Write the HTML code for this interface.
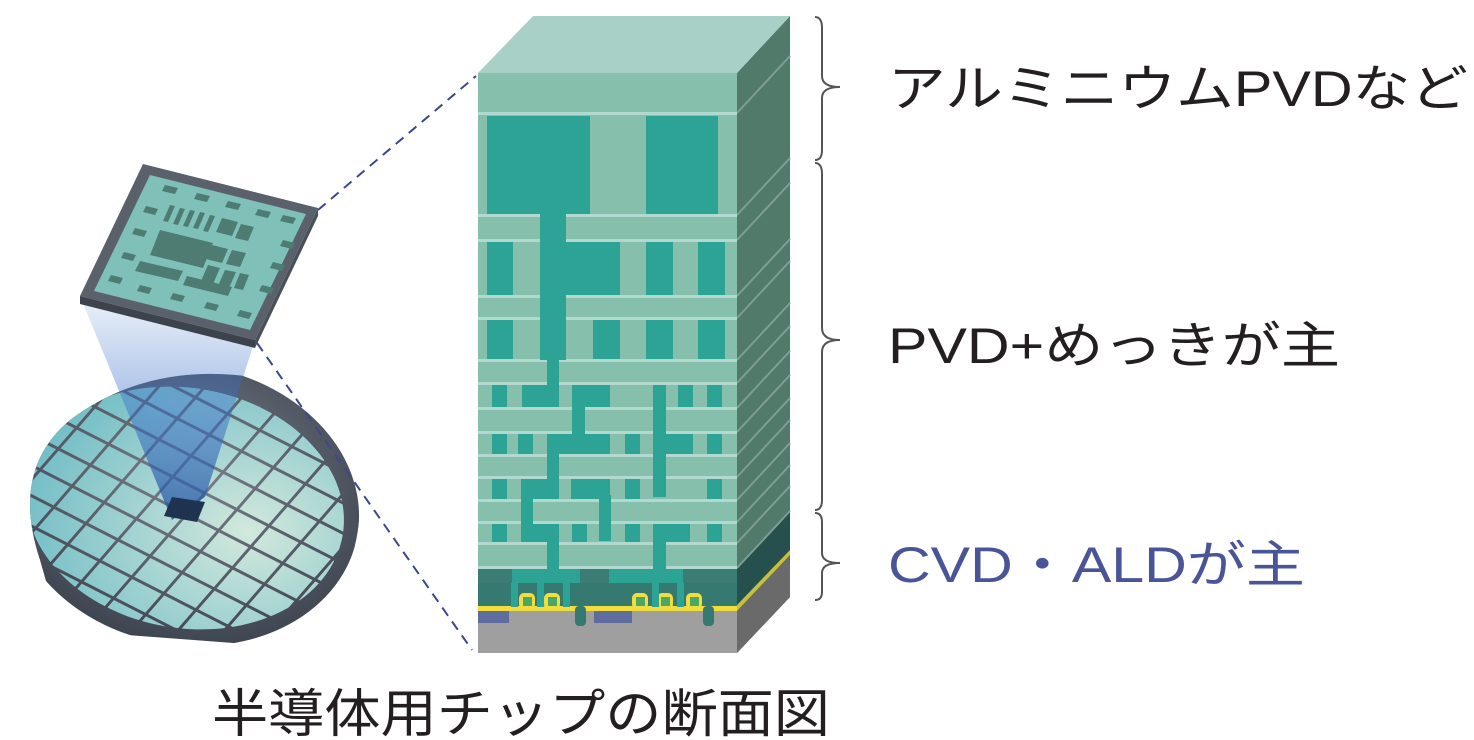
<!DOCTYPE html>
<html><head><meta charset="utf-8"><style>
html,body{margin:0;padding:0;background:#fff;}
svg{display:block}
text{font-family:"Liberation Sans","Noto Sans CJK JP",sans-serif;}
</style></head><body>
<svg width="1474" height="740" viewBox="0 0 1474 740" xmlns="http://www.w3.org/2000/svg">
<defs>
<linearGradient id="beam" x1="0" y1="0" x2="0" y2="1">
<stop offset="0" stop-color="#3a6fc9" stop-opacity="0.1"/>
<stop offset="0.5" stop-color="#3a6fc9" stop-opacity="0.45"/>
<stop offset="1" stop-color="#1e4f9e" stop-opacity="0.75"/>
</linearGradient>
<radialGradient id="cellg" cx="0.62" cy="0.6" r="0.6">
<stop offset="0" stop-color="#d2e8dc"/>
<stop offset="1" stop-color="#6fbcc6"/>
</radialGradient>
<radialGradient id="waf" cx="0.5" cy="0.4" r="0.6">
<stop offset="0" stop-color="#7b818c"/>
<stop offset="1" stop-color="#3e4550"/>
</radialGradient>
<mask id="cellmask">
<rect width="1474" height="740" fill="black"/>
<pattern id="cm" x="6" y="4" width="36" height="27" patternUnits="userSpaceOnUse" patternTransform="rotate(17) skewX(-14)">
<rect width="36" height="27" fill="black"/>
<rect x="2" y="2" width="33" height="24" fill="white"/>
</pattern>
<ellipse cx="185" cy="508" rx="160" ry="120" transform="rotate(10 185 508)" fill="url(#cm)"/>
</mask>
<clipPath id="wclip"><path d="M40 560 Q10 470 70 420 Q150 360 260 378 Q350 400 360 480 Q365 560 320 620 L300 648 L60 630 Z"/></clipPath>
</defs>

<!-- wafer -->
<g clip-path="url(#wclip)">
<ellipse cx="185" cy="505" rx="175" ry="140" transform="rotate(10 185 505)" fill="url(#waf)"/>
<rect x="0" y="340" width="400" height="320" fill="url(#cellg)" mask="url(#cellmask)"/>
</g>
<!-- beam -->
<polygon points="80,296 255,340 205,497 172,520" fill="url(#beam)"/>
<polygon points="172,497 205,502 197,522 164,516" fill="#1f3350"/>
<!-- chip -->
<polygon points="80,296 255,340 255,348 80,304" fill="#3d434c"/>
<polygon points="255,340 318,208 318,216 255,348" fill="#4a5059"/>
<polygon points="143,164 318,208 255,340 80,296" fill="#5a616b"/>
<polygon points="150,175 306,214 250,330 94,291" fill="#7fc0b8"/>
<g fill="#4e7c73">
<polygon points="165,185 178,188 175,194 162,191"/><polygon points="197,193 210,196 207,202 194,199"/><polygon points="228,201 241,204 238,210 225,207"/><polygon points="258,209 271,212 268,218 255,215"/><polygon points="283,215 296,218 293,224 280,221"/>
<polygon points="146,206 158,209 155,215 143,212"/><polygon points="135,228 147,231 144,237 132,234"/><polygon points="124,252 136,255 133,261 121,258"/><polygon points="111,275 123,278 120,284 108,281"/>
<polygon points="140,285 152,288 149,294 137,291"/><polygon points="173,293 185,296 182,302 170,299"/><polygon points="207,302 219,305 216,311 204,308"/><polygon points="240,310 252,313 249,319 237,316"/>
<polygon points="283,240 295,243 292,249 280,246"/><polygon points="273,262 285,265 282,271 270,268"/><polygon points="262,285 274,288 271,294 259,291"/>
<polygon points="160,230 213,243 203,268 150,255"/>
<polygon points="140,261 183,271 178,281 135,271"/>
<polygon points="187,276 232,287 228,296 183,285"/>
<polygon points="170,205 175,206 168,222 163,221"/><polygon points="180,208 185,209 178,225 173,224"/><polygon points="190,210 195,211 188,227 183,226"/><polygon points="200,212 205,213 198,229 193,228"/><polygon points="210,215 215,216 208,232 203,231"/>
<polygon points="222,218 238,222 232,236 216,232"/><polygon points="241,224 254,227 248,241 235,238"/>
<polygon points="212,245 228,249 222,263 206,259"/><polygon points="232,250 246,253 240,267 226,264"/>
<polygon points="208,265 220,268 213,284 201,281"/><polygon points="225,270 236,272 229,288 218,286"/><polygon points="240,273 249,275 243,290 234,288"/>
</g>
<!-- dashed lines -->
<g stroke="#3c4790" stroke-width="2" stroke-dasharray="10,7" fill="none">
<line x1="318" y1="210" x2="476" y2="76"/>
<line x1="257" y1="343" x2="472" y2="650"/>
</g>

<!-- block right face -->
<polygon points="737,73 790,16 790,597 737,653" fill="#527a6b"/>
<polygon points="737,568 790,511 790,552 737,607" fill="#25504d"/>
<polygon points="737,605 790,550 790,555 737,611" fill="#c8c03a"/>
<polygon points="737,611 790,555 790,597 737,653" fill="#6a6a6a"/>
<g stroke="#7e9e94" stroke-width="2">
<line x1="737" y1="113" x2="790" y2="56"/><line x1="737" y1="215" x2="790" y2="158"/><line x1="737" y1="240" x2="790" y2="183"/><line x1="737" y1="296" x2="790" y2="239"/><line x1="737" y1="318" x2="790" y2="261"/><line x1="737" y1="360" x2="790" y2="303"/><line x1="737" y1="383" x2="790" y2="326"/><line x1="737" y1="408" x2="790" y2="351"/><line x1="737" y1="432" x2="790" y2="375"/><line x1="737" y1="455" x2="790" y2="398"/><line x1="737" y1="477" x2="790" y2="420"/><line x1="737" y1="500" x2="790" y2="443"/><line x1="737" y1="522" x2="790" y2="465"/><line x1="737" y1="543" x2="790" y2="486"/><line x1="737" y1="568" x2="790" y2="511"/>
</g>
<!-- top face -->
<polygon points="478,73 533,16 790,16 737,73" fill="#a8d0c7"/>
<!-- front face -->
<rect x="478" y="73" width="259" height="497" fill="#86bfab"/>
<g fill="#b2d9d0">
<rect x="478" y="112" width="259" height="3"/><rect x="478" y="214" width="259" height="3"/><rect x="478" y="239" width="259" height="3"/><rect x="478" y="295" width="259" height="3"/><rect x="478" y="317" width="259" height="3"/><rect x="478" y="359" width="259" height="3"/><rect x="478" y="382" width="259" height="3"/><rect x="478" y="407" width="259" height="3"/><rect x="478" y="431" width="259" height="3"/><rect x="478" y="454" width="259" height="3"/><rect x="478" y="476" width="259" height="3"/><rect x="478" y="499" width="259" height="3"/><rect x="478" y="521" width="259" height="3"/><rect x="478" y="542" width="259" height="3"/><rect x="478" y="566" width="259" height="3"/>
</g>
<g fill="#2da396">
<rect x="487" y="116" width="103" height="98"/><rect x="646" y="116" width="72" height="98"/>
<rect x="540" y="210" width="26" height="150"/>
<rect x="487" y="242" width="26" height="53"/><rect x="566" y="242" width="54" height="53"/><rect x="646" y="242" width="27" height="53"/><rect x="698" y="242" width="27" height="53"/>
<rect x="487" y="320" width="26" height="39"/><rect x="593" y="320" width="27" height="39"/><rect x="646" y="320" width="27" height="39"/><rect x="698" y="320" width="27" height="39"/>
<rect x="547" y="355" width="12" height="35"/>
<rect x="492" y="385" width="15" height="22"/><rect x="522" y="385" width="37" height="22"/><rect x="572" y="385" width="38" height="22"/><rect x="653" y="385" width="13" height="112"/><rect x="678" y="385" width="15" height="22"/><rect x="707" y="385" width="15" height="22"/>
<rect x="572" y="405" width="13" height="30"/>
<rect x="492" y="434" width="15" height="20"/><rect x="518" y="434" width="15" height="20"/><rect x="547" y="434" width="63" height="20"/><rect x="625" y="434" width="15" height="20"/><rect x="653" y="434" width="40" height="20"/><rect x="707" y="434" width="15" height="20"/>
<rect x="547" y="450" width="12" height="32"/>
<rect x="492" y="479" width="15" height="20"/><rect x="521" y="479" width="38" height="20"/><rect x="571" y="479" width="39" height="20"/><rect x="625" y="479" width="15" height="20"/><rect x="707" y="479" width="15" height="20"/>
<rect x="521" y="495" width="12" height="32"/><rect x="599" y="495" width="12" height="46"/>
<rect x="492" y="524" width="15" height="18"/><rect x="521" y="524" width="38" height="18"/><rect x="572" y="524" width="15" height="18"/><rect x="625" y="524" width="15" height="18"/><rect x="653" y="524" width="37" height="18"/><rect x="707" y="524" width="15" height="18"/>
<rect x="547" y="540" width="12" height="32"/><rect x="653" y="540" width="13" height="32"/>
</g>
<!-- bottom layers -->
<rect x="478" y="569" width="259" height="14" fill="#3b7d75"/>
<rect x="512" y="569" width="68" height="14" fill="#2da396"/><rect x="609" y="569" width="74" height="14" fill="#2da396"/>
<rect x="478" y="583" width="259" height="25" fill="#367971"/>
<rect x="478" y="606" width="259" height="6" fill="#f1dd3e"/>
<g fill="#f1dd3e">
<rect x="519" y="593" width="16" height="16" rx="5"/><rect x="544" y="593" width="16" height="16" rx="5"/><rect x="632" y="593" width="16" height="16" rx="5"/><rect x="657" y="593" width="16" height="16" rx="5"/><rect x="686" y="593" width="16" height="16" rx="5"/>
</g>
<g fill="#4aa866">
<rect x="523" y="597" width="9" height="9"/><rect x="548" y="597" width="9" height="9"/><rect x="636" y="597" width="9" height="9"/><rect x="661" y="597" width="9" height="9"/><rect x="690" y="597" width="9" height="9"/>
</g>
<g fill="#2da396">
<rect x="511" y="583" width="7" height="24"/><rect x="537" y="583" width="7" height="24"/><rect x="563" y="583" width="7" height="24"/><rect x="652" y="583" width="7" height="24"/><rect x="677" y="583" width="7" height="24"/>
</g>
<rect x="478" y="611" width="259" height="42" fill="#9f9f9f"/>
<rect x="478" y="611" width="31" height="12" fill="#5f6c9e"/><rect x="594" y="611" width="38" height="12" fill="#5f6c9e"/>
<rect x="575" y="606" width="11" height="20" rx="4" fill="#367971"/><rect x="703" y="606" width="11" height="20" rx="4" fill="#367971"/>

<!-- braces -->
<g stroke="#555" stroke-width="2" fill="none">
<path d="M815 17 Q822 17 822 28 L822 76 Q822 87 840 87 Q822 87 822 98 L822 150 Q822 160 815 160"/>
<path d="M815 163 Q822 163 822 174 L822 328 Q822 340 840 340 Q822 340 822 352 L822 500 Q822 510 815 510"/>
<path d="M815 513 Q822 513 822 522 L822 553 Q822 563 840 563 Q822 563 822 573 L822 592 Q822 600 815 600"/>
</g>
<!-- labels -->
<text x="888" y="106" font-size="50" fill="#231f20" textLength="580" lengthAdjust="spacingAndGlyphs">アルミニウムPVDなど</text>
<text x="888" y="363" font-size="50" fill="#231f20" textLength="452" lengthAdjust="spacingAndGlyphs">PVD+めっきが主</text>
<text x="888" y="582" font-size="50" fill="#4a5598" textLength="417" lengthAdjust="spacingAndGlyphs">CVD・ALDが主</text>
<text x="212" y="732" font-size="52" fill="#231f20" textLength="618" lengthAdjust="spacingAndGlyphs">半導体用チップの断面図</text>
</svg>
</body></html>
